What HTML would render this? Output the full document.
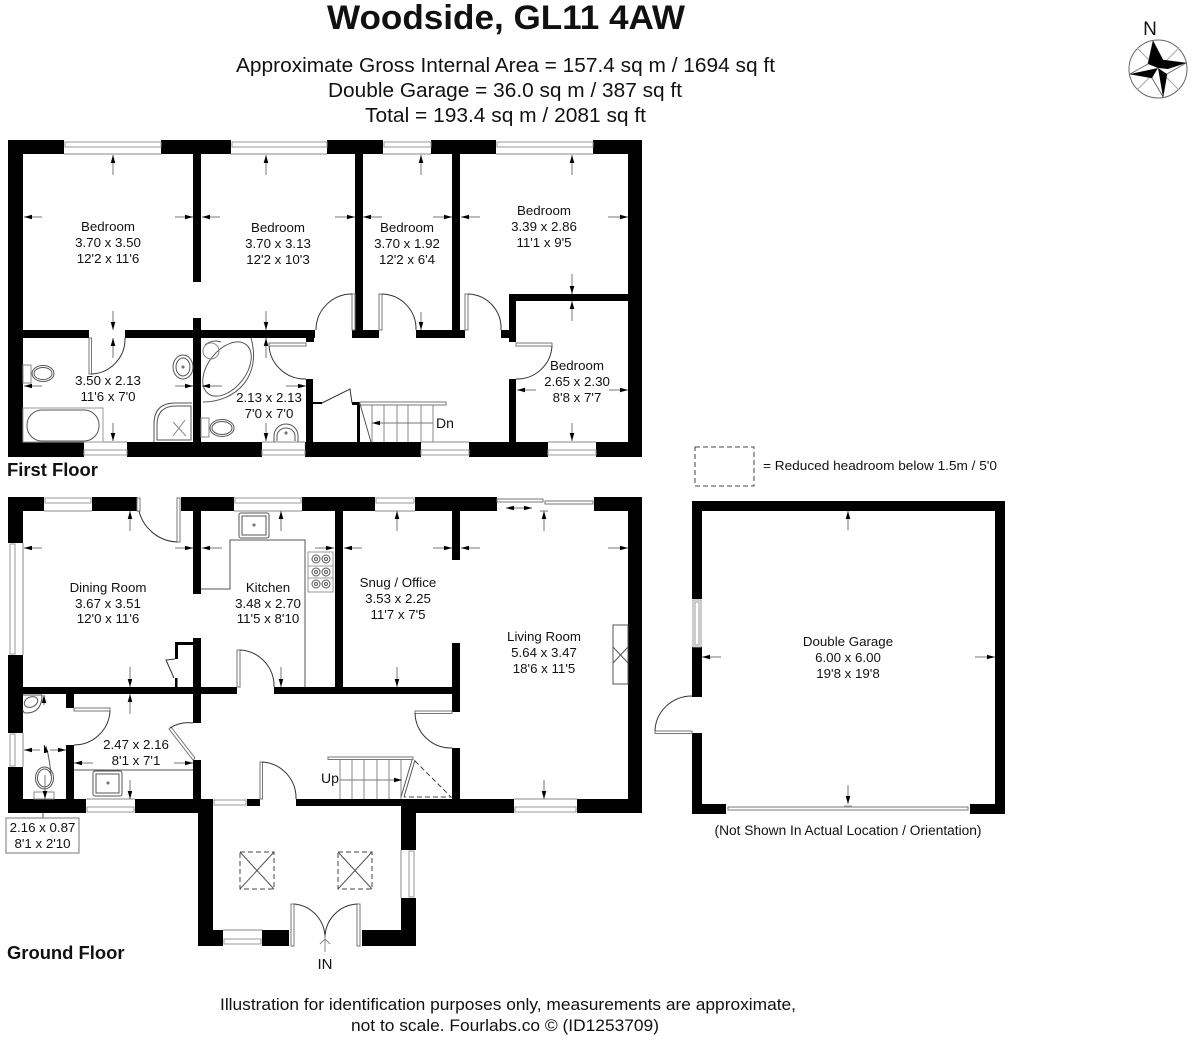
<!DOCTYPE html>
<html><head><meta charset="utf-8"><title>Woodside, GL11 4AW</title>
<style>
html,body{margin:0;padding:0;background:#fff}
svg{display:block}
text{font-family:"Liberation Sans",Arial,sans-serif;fill:#111}
.r text,text.r{font-size:13.3px;text-anchor:middle}
.t{font-size:20px;text-anchor:middle}
.b{font-weight:bold}
.w{fill:#000;stroke:none}
.l{fill:none;stroke:#555;stroke-width:1}
.g{fill:none;stroke:#888;stroke-width:1}
.d{fill:none;stroke:#444;stroke-width:1;stroke-dasharray:5 3}
.a path{fill:none;stroke:#777;stroke-width:1;marker-end:url(#m)}
.win{fill:#fff;stroke:#999;stroke-width:1}
.leaf{fill:#fff;stroke:#777;stroke-width:1}
.arc{fill:none;stroke:#333;stroke-width:1}
</style></head>
<body>
<svg xmlns="http://www.w3.org/2000/svg" width="1192" height="1040" viewBox="0 0 1192 1040">
<defs><marker id="m" markerUnits="userSpaceOnUse" markerWidth="10" markerHeight="8" refX="8" refY="4" orient="auto"><path d="M0 1.700L8 4L0 6.300z" fill="#000"/></marker></defs>
<rect width="1192" height="1040" fill="#fff"/>

<!-- Headings -->
<text x="506" y="29" class="b" font-size="34.6" text-anchor="middle" textLength="358" lengthAdjust="spacingAndGlyphs">Woodside, GL11 4AW</text>
<text x="505.500" y="72" class="t" textLength="539" lengthAdjust="spacingAndGlyphs">Approximate Gross Internal Area = 157.4 sq m / 1694 sq ft</text>
<text x="505" y="97" class="t" textLength="354" lengthAdjust="spacingAndGlyphs">Double Garage = 36.0 sq m / 387 sq ft</text>
<text x="505.500" y="122" class="t" textLength="281" lengthAdjust="spacingAndGlyphs">Total = 193.4 sq m / 2081 sq ft</text>

<!-- Compass -->
<text x="1150" y="35" font-size="19" text-anchor="middle">N</text>
<circle cx="1158" cy="69" r="29" fill="#fff" stroke="#666" stroke-width="1"/>
<path d="M1137 48L1179 90M1179 48L1137 90" stroke="#aaa" stroke-width="1" fill="none"/>
<path d="M1153 41L1163 60L1186 63L1167 74L1163 97L1152 78L1130 74L1148 64z" fill="#fff" stroke="#555" stroke-width=".8"/>
<path d="M1153 41L1148 64L1158 68L1163 60zM1186 63L1163 60L1158 68L1168 69zM1163 97L1158 68L1167 74zM1130 74L1158 68L1152 78z" fill="#000"/>

<!-- FIRST FLOOR walls -->
<g class="w">
<rect x="8" y="140" width="56" height="14"/><rect x="161" y="140" width="70" height="14"/><rect x="327" y="140" width="56" height="14"/><rect x="431" y="140" width="65" height="14"/><rect x="593" y="140" width="49" height="14"/>
<rect x="8" y="140" width="15" height="317"/><rect x="628" y="140" width="14" height="317"/>
<rect x="8" y="442" width="76" height="15"/><rect x="127" y="442" width="135" height="15"/><rect x="305" y="442" width="116" height="15"/><rect x="469" y="442" width="79" height="15"/><rect x="596" y="442" width="46" height="15"/>
<rect x="193" y="154" width="8" height="128"/><rect x="193" y="318" width="8" height="124"/>
<rect x="23" y="330" width="66" height="8"/><rect x="125" y="330" width="190" height="8"/><rect x="306" y="336" width="8" height="6"/>
<rect x="355" y="154" width="8" height="176"/><rect x="352" y="330" width="27" height="8"/>
<rect x="452" y="154" width="8" height="176"/><rect x="416" y="330" width="49" height="8"/>
<rect x="501" y="330" width="15" height="8"/><rect x="509" y="294" width="7" height="48"/><rect x="509" y="294" width="119" height="7"/>
<rect x="509" y="379" width="7" height="63"/><rect x="306" y="379" width="7" height="63"/>
<rect x="357" y="402" width="3" height="40"/><rect x="352" y="402" width="8" height="3"/><rect x="313" y="402" width="9" height="2"/>
</g>
<!-- first floor windows -->
<g>
<rect x="64" y="140" width="97" height="14" fill="#fff"/><rect x="65" y="142" width="96" height="5" class="win"/><path class="g" d="M64 154H161"/>
<rect x="231" y="140" width="96" height="14" fill="#fff"/><rect x="232" y="142" width="95" height="5" class="win"/><path class="g" d="M231 154H327"/>
<rect x="383" y="140" width="48" height="14" fill="#fff"/><rect x="384" y="142" width="47" height="5" class="win"/><path class="g" d="M383 154H431"/>
<rect x="496" y="140" width="97" height="14" fill="#fff"/><rect x="497" y="142" width="96" height="5" class="win"/><path class="g" d="M496 154H593"/>
<path class="g" d="M84 442H127M262 442H305M421 442H469M548 442H596"/>
<rect x="84" y="450" width="43" height="5" class="win"/><rect x="262" y="450" width="43" height="5" class="win"/><rect x="421" y="450" width="48" height="5" class="win"/><rect x="548" y="450" width="48" height="5" class="win"/>
</g>
<!-- first floor doors -->
<g>
<rect x="89" y="338" width="2.500" height="36" class="leaf"/><path class="arc" d="M91 374A35 35 0 0 0 125 338"/>
<rect x="352" y="294" width="3" height="36" class="leaf"/><path class="arc" d="M352 294A36 36 0 0 0 316 330"/>
<rect x="379" y="294" width="3" height="36" class="leaf"/><path class="arc" d="M382 294A35 35 0 0 1 416 330"/>
<rect x="465" y="294" width="3" height="36" class="leaf"/><path class="arc" d="M468 294A34 34 0 0 1 501 330"/>
<rect x="516" y="343" width="36" height="3" class="leaf"/><path class="arc" d="M552 346A35 35 0 0 1 516 379"/>
<rect x="269" y="343" width="37" height="3" class="leaf"/><path class="arc" d="M269 346A36 36 0 0 0 306 379"/>
<path class="arc" d="M322 403L350 389L352 403"/>
</g>
<!-- stairs first floor -->
<path class="g" d="M372 404V442M384 404V442M397 404V442M408 404V442M421 404V442M433 404V442"/>
<rect x="360" y="402" width="86" height="3" class="leaf"/>
<path class="l" d="M360 404L371 442"/>
<g class="a"><path d="M433 423H372"/></g>
<text x="436" y="428" font-size="14">Dn</text>

<!-- first floor fixtures -->
<g class="l">
<rect x="23" y="365" width="8" height="18" stroke="#888"/><ellipse cx="43" cy="373.500" rx="11" ry="8"/><ellipse cx="43" cy="373.500" rx="9" ry="6"/>
<rect x="23" y="408" width="80" height="34" stroke="#999"/><rect x="27" y="410" width="72" height="31" rx="15"/>
<ellipse cx="183" cy="367" rx="10" ry="12"/><ellipse cx="183" cy="367" rx="7" ry="9"/><circle cx="183" cy="367" r="1"/>
<path d="M192 403H175Q154 403 154 424V442M191 406H176Q157 406 157 425V440H191z"/><path d="M173 436L185 420M173 422L186 436" stroke="#888"/>
<path d="M203 402C236 402 262 376 251 338"/>
<ellipse cx="227" cy="369" rx="31" ry="19" transform="rotate(-52 227 369)"/>
<path d="M205 345A16 16 0 0 1 221 342"/><circle cx="211" cy="351" r="8" stroke="#888"/>
<rect x="201" y="418" width="8" height="19" stroke="#888"/><ellipse cx="222" cy="428" rx="12" ry="8.500"/><ellipse cx="222" cy="428" rx="10" ry="6.500"/>
<path d="M274 442V436A12 12 0 0 1 298 436V442"/><path d="M277 441V436A9 8 0 0 1 295 436V441"/><circle cx="286" cy="433" r="1"/>
</g>

<!-- first floor dimension arrows -->
<g class="a">
<path d="M113 175V155"/><path d="M42 217H24"/><path d="M175 217H193"/><path d="M113 311V330"/><path d="M113 358V338"/><path d="M42 386H24"/><path d="M175 386H193"/><path d="M113 423V441"/>
<path d="M266 175V155"/><path d="M220 217H202"/><path d="M335 217H355"/><path d="M266 311V330"/><path d="M266 358V338"/><path d="M222 386H202"/><path d="M286 386H306"/><path d="M266 423V441"/>
<path d="M421 175V155"/><path d="M382 217H363"/><path d="M433 217H452"/><path d="M421 312V330"/>
<path d="M572 175V155"/><path d="M480 217H461"/><path d="M608 217H628"/><path d="M572 274V294"/>
<path d="M572 321V301"/><path d="M536 390H517"/><path d="M609 390H628"/><path d="M572 423V441"/>
</g>

<!-- first floor labels -->
<g class="r">
<text x="108" y="231">Bedroom</text><text x="108" y="247">3.70 x 3.50</text><text x="108" y="263">12'2 x 11'6</text>
<text x="278" y="232">Bedroom</text><text x="278" y="248">3.70 x 3.13</text><text x="278" y="264">12'2 x 10'3</text>
<text x="407" y="232">Bedroom</text><text x="407" y="248">3.70 x 1.92</text><text x="407" y="264">12'2 x 6'4</text>
<text x="544" y="215">Bedroom</text><text x="544" y="231">3.39 x 2.86</text><text x="544" y="247">11'1 x 9'5</text>
<text x="577" y="370">Bedroom</text><text x="577" y="386">2.65 x 2.30</text><text x="577" y="402">8'8 x 7'7</text>
<text x="108" y="385">3.50 x 2.13</text><text x="108" y="401">11'6 x 7'0</text>
<text x="269" y="402">2.13 x 2.13</text><text x="269" y="418">7'0 x 7'0</text>
</g>
<text x="7" y="476" class="b" font-size="18.400">First Floor</text>

<!-- GROUND FLOOR walls -->
<g class="w">
<rect x="8" y="497" width="36" height="14"/><rect x="92" y="497" width="45" height="14"/><rect x="181" y="497" width="53" height="14"/><rect x="302" y="497" width="73" height="14"/><rect x="415" y="497" width="82" height="14"/><rect x="594" y="497" width="48" height="14"/>
<rect x="8" y="497" width="15" height="46"/><rect x="8" y="655" width="15" height="78"/><rect x="8" y="767" width="15" height="46"/>
<rect x="628" y="497" width="14" height="316"/>
<rect x="8" y="799" width="78" height="14"/><rect x="135" y="799" width="78" height="14"/>
<rect x="247" y="799" width="13" height="7"/><rect x="296" y="799" width="106" height="7"/>
<rect x="402" y="799" width="112" height="14"/><rect x="577" y="799" width="65" height="14"/>
<rect x="193" y="511" width="8" height="83"/><rect x="193" y="638" width="8" height="85"/><rect x="193" y="760" width="8" height="39"/>
<rect x="23" y="687" width="214" height="7"/><rect x="274" y="687" width="186" height="7"/>
<rect x="335" y="511" width="8" height="176"/>
<rect x="452" y="511" width="8" height="49"/><rect x="452" y="643" width="8" height="69"/><rect x="452" y="748" width="8" height="51"/>
<rect x="66" y="694" width="8" height="14"/><rect x="66" y="745" width="8" height="54"/>
<rect x="175" y="642" width="18" height="3"/><rect x="175" y="642" width="3" height="17"/><rect x="175" y="678" width="2.500" height="9"/>
<!-- porch -->
<rect x="198" y="806" width="15" height="140"/><rect x="198" y="930" width="25" height="16"/><rect x="262" y="930" width="27" height="16"/>
<rect x="401" y="806" width="15" height="44"/><rect x="401" y="898" width="15" height="48"/><rect x="362" y="930" width="54" height="16"/>
</g>
<!-- ground windows -->
<g>
<rect x="45" y="498" width="46" height="5" class="win"/><path class="g" d="M44 511H92"/>
<rect x="235" y="498" width="66" height="5" class="win"/><path class="g" d="M234 511H302"/>
<rect x="376" y="498" width="38" height="5" class="win"/><path class="g" d="M375 511H415"/>
<rect x="10" y="544" width="5" height="110" class="win"/><path class="g" d="M23 543V655"/>
<rect x="10" y="734" width="5" height="32" class="win"/><path class="g" d="M23 733V767"/>
<rect x="87" y="807" width="47" height="5" class="win"/><path class="g" d="M86 799H135"/>
<rect x="515" y="807" width="61" height="5" class="win"/><path class="g" d="M514 799H577"/>
<rect x="214" y="800" width="32" height="5" class="win"/>
<rect x="224" y="939" width="37" height="5" class="win"/><path class="g" d="M223 930H262"/>
<rect x="409" y="851" width="5" height="46" class="win"/><path class="g" d="M401 850V898"/>
<rect x="497" y="499" width="46" height="3" class="leaf"/><rect x="545" y="501" width="48" height="3" class="leaf"/>
</g>
<!-- ground doors -->
<g>
<rect x="137" y="498" width="3" height="13" class="leaf"/>
<rect x="177" y="498" width="3" height="44" class="leaf"/><path class="arc" d="M177 542A41 41 0 0 1 139 511"/>
<rect x="237" y="650" width="3" height="37" class="leaf"/><path class="arc" d="M240 650A36 36 0 0 1 274 687"/>
<rect x="74" y="708" width="36" height="3" class="leaf"/><path class="arc" d="M110 711A36 36 0 0 1 74 745"/>
<path class="leaf" d="M169 729L171 727L195 758L193 760z"/><path class="arc" d="M170 728A34 34 0 0 1 193 723"/>
<rect x="260" y="762" width="2.500" height="37" class="leaf"/><path class="arc" d="M262 762A36 36 0 0 1 296 799"/>
<rect x="415" y="711" width="37" height="2.500" class="leaf"/><path class="arc" d="M415 713A36 36 0 0 0 452 748"/>
<path class="arc" d="M175 659L166 660L174 678"/>
<rect x="291" y="904" width="3" height="42" class="leaf"/><path class="arc" d="M294 904A34 34 0 0 1 325 938"/>
<rect x="357" y="904" width="3" height="42" class="leaf"/><path class="arc" d="M357 904A34 34 0 0 0 325 938"/>
<path class="g" d="M325 935V952M320 944L325 939L330 944"/>
</g>
<text x="325" y="969" font-size="15" text-anchor="middle">IN</text>

<!-- skylights -->
<g>
<rect x="240" y="852" width="34" height="37" class="d"/><path class="l" d="M240 852L274 889M274 852L240 889"/>
<rect x="338" y="852" width="34" height="37" class="d"/><path class="l" d="M338 852L372 889M372 852L338 889"/>
</g>

<!-- kitchen and fixtures -->
<g class="l">
<path d="M201 589H230V540H305V687"/>
<rect x="239" y="513" width="30" height="25" rx="2"/><rect x="242" y="516" width="24" height="19"/><circle cx="254" cy="525" r="1"/>
<rect x="308" y="552" width="25" height="40" stroke="#999"/><path d="M308 566H333M308 578H333" stroke="#999"/>
<circle cx="316" cy="559" r="4"/><circle cx="326" cy="559" r="4"/><circle cx="316" cy="572" r="4"/><circle cx="326" cy="572" r="4"/><circle cx="316" cy="584" r="4"/><circle cx="326" cy="584" r="4"/>
<circle cx="316" cy="559" r="1.500"/><circle cx="326" cy="559" r="1.500"/><circle cx="316" cy="572" r="1.500"/><circle cx="326" cy="572" r="1.500"/><circle cx="316" cy="584" r="1.500"/><circle cx="326" cy="584" r="1.500"/>
<!-- fireplace -->
<rect x="613" y="625" width="15" height="59"/><path d="M613 647L628 663M628 647L613 663"/>
<!-- utility -->
<path d="M74 770H193"/><rect x="93" y="771" width="29" height="25" rx="2"/><rect x="96" y="774" width="23" height="19"/><circle cx="108" cy="783" r="1"/>
<!-- wc -->
<path d="M23 695H42Q42 713 26 713Q23 713 23 710"/><ellipse cx="31" cy="702" rx="7" ry="5" transform="rotate(-25 31 702)"/>
<ellipse cx="44.500" cy="778" rx="9" ry="11"/><ellipse cx="44.500" cy="778" rx="7" ry="9"/><rect x="34" y="792" width="20" height="7" stroke="#888"/>
<path d="M46 746Q50 760 51 776"/><path d="M43 813V818"/>
</g>

<!-- stairs ground -->
<path class="g" d="M340 759V799M352 759V799M364 759V799M377 759V799M389 759V799M401 759V799"/>
<rect x="328" y="757" width="85" height="2.500" class="leaf"/>
<g class="a"><path d="M340 780H402"/></g>
<text x="321" y="783" font-size="14">Up</text>
<path class="l" d="M412 760L401 797M415 760L404 797"/>
<path class="d" d="M415 761L451 797H404"/>

<!-- ground arrows -->
<g class="a">
<path d="M130 531V511"/><path d="M42 548H24"/><path d="M175 548H193"/><path d="M130 667V687"/>
<path d="M130 714V694"/><path d="M93 763H74"/><path d="M174 763H193"/><path d="M130 780V799"/>
<path d="M281 531V511"/><path d="M222 548H202"/><path d="M315 548H334"/><path d="M281 667V687"/>
<path d="M397 531V511"/><path d="M362 548H344"/><path d="M433 548H452"/><path d="M397 667V687"/>
<path d="M544 531V511"/><path d="M480 548H461"/><path d="M608 548H628"/><path d="M544 780V799"/>
<path d="M519 508H506"/><path d="M519 508H532"/>
<path d="M44 705V695"/><path d="M40 750H24"/><path d="M50 750H66"/><path d="M45 775V799"/>
<path d="M46 752L44 745"/>
</g>
<path d="M540 511H548" stroke="#777" fill="none"/>

<!-- ground labels -->
<g class="r">
<text x="108" y="592">Dining Room</text><text x="108" y="608">3.67 x 3.51</text><text x="108" y="623">12'0 x 11'6</text>
<text x="268" y="592">Kitchen</text><text x="268" y="608">3.48 x 2.70</text><text x="268" y="623">11'5 x 8'10</text>
<text x="398" y="587">Snug / Office</text><text x="398" y="603">3.53 x 2.25</text><text x="398" y="619">11'7 x 7'5</text>
<text x="544" y="641">Living Room</text><text x="544" y="657">5.64 x 3.47</text><text x="544" y="673">18'6 x 11'5</text>
<text x="136" y="749">2.47 x 2.16</text><text x="136" y="765">8'1 x 7'1</text>
</g>
<rect x="6" y="818" width="73" height="35" fill="#fff" stroke="#777"/>
<g class="r"><text x="42.500" y="832">2.16 x 0.87</text><text x="42.500" y="848">8'1 x 2'10</text></g>
<text x="7" y="959" class="b" font-size="18.400">Ground Floor</text>

<!-- legend -->
<rect x="695" y="447" width="59" height="39" class="d" stroke="#666"/>
<text x="763" y="470" font-size="12.800" textLength="234" lengthAdjust="spacingAndGlyphs">= Reduced headroom below 1.5m / 5'0</text>

<!-- GARAGE -->
<g class="w">
<rect x="692" y="501" width="313" height="10"/>
<rect x="692" y="501" width="10" height="98"/><rect x="692" y="647" width="10" height="50"/><rect x="692" y="733" width="10" height="81"/>
<rect x="995" y="501" width="10" height="313"/>
<rect x="692" y="804" width="34" height="10"/><rect x="970" y="804" width="35" height="10"/>
</g>
<rect x="693" y="600" width="8" height="47" class="win"/><rect x="695" y="602" width="4" height="43" class="win"/>
<rect x="728" y="807" width="240" height="3" class="leaf"/>
<rect x="655" y="731" width="37" height="2.500" class="leaf"/><path class="arc" d="M655 731A37 36 0 0 1 692 696"/>
<g class="a"><path d="M848 530V511"/><path d="M721 657H702"/><path d="M975 657H995"/><path d="M848 785V804"/></g>
<path d="M844 806H852" stroke="#999"/>
<g class="r"><text x="848" y="646">Double Garage</text><text x="848" y="662">6.00 x 6.00</text><text x="848" y="678">19'8 x 19'8</text></g>
<text x="848" y="835" font-size="13.500" text-anchor="middle" textLength="267" lengthAdjust="spacingAndGlyphs">(Not Shown In Actual Location / Orientation)</text>

<!-- Footer -->
<text x="508" y="1010" font-size="16.800" text-anchor="middle" textLength="576" lengthAdjust="spacingAndGlyphs">Illustration for identification purposes only, measurements are approximate,</text>
<text x="505" y="1031" font-size="16.800" text-anchor="middle" textLength="308" lengthAdjust="spacingAndGlyphs">not to scale. Fourlabs.co © (ID1253709)</text>
</svg>
</body></html>
